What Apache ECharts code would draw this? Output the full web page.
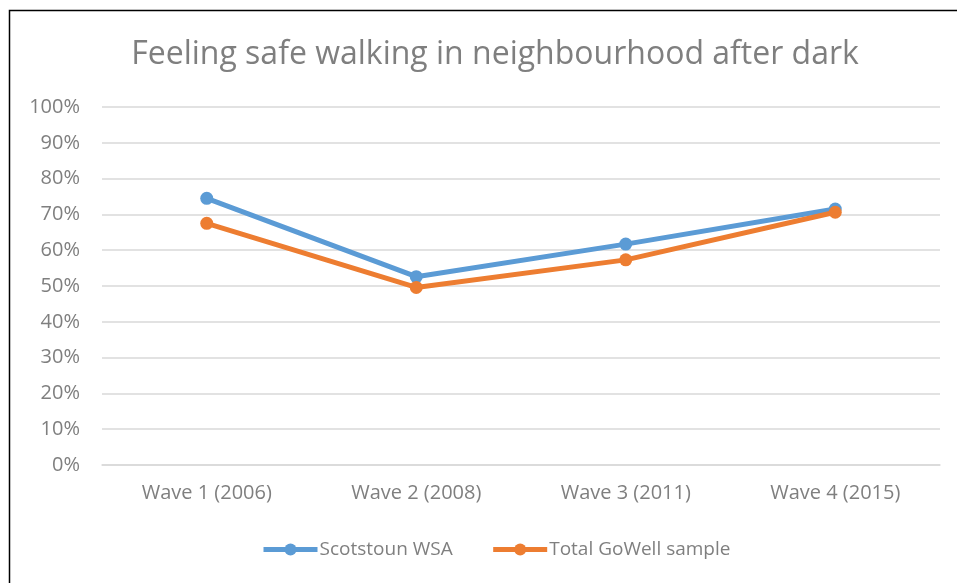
<!DOCTYPE html>
<html>
<head>
<meta charset="utf-8">
<script src="https://cdn.jsdelivr.net/npm/echarts@6/dist/echarts.min.js"></script>
<style>
  html, body { margin: 0; padding: 0; background: #fff; }
  #main { width: 957px; height: 583px; }
</style>
</head>
<body>
<div id="main"></div>
<script>
// data
var waves = ['Wave 1 (2006)', 'Wave 2 (2008)', 'Wave 3 (2011)', 'Wave 4 (2015)'];
var scotstoun = [74.5, 52.6, 61.7, 71.5];
var goWellTotal = [67.5, 49.6, 57.3, 70.6];
var seriesNames = ['Scotstoun WSA', 'Total GoWell sample'];

var myChart = echarts.init(document.getElementById('main'));
var font = '"Open Sans", sans-serif';

var option = {
    animation: false,
    backgroundColor: '#fff',
    title: {
        text: 'Feeling safe walking in neighbourhood after dark',
        left: 490,
        textAlign: 'center',
        top: 34,
        textStyle: { color: '#7f7f7f', fontSize: 32, fontWeight: 'normal', fontFamily: font }
    },
    graphic: [{
        type: 'rect',
        shape: { x: 9.5, y: 10.5, width: 960, height: 600 },
        style: { fill: 'none', stroke: '#000', lineWidth: 1.5 },
        silent: true
    }],
    legend: {
        top: 535,
        left: 256,
        itemWidth: 54,
        itemHeight: 15,
        itemGap: 38,
        data: seriesNames,
        lineStyle: { width: 5 },
        textStyle: { color: '#7f7f7f', fontSize: 19, fontFamily: font, padding: [0, 0, 0, -3] }
    },
    grid: { left: 102, right: 17, top: 107, bottom: 118 },
    xAxis: {
        type: 'category',
        data: waves,
        boundaryGap: true,
        axisLine: { lineStyle: { color: '#d9d9d9', width: 1.5 } },
        axisTick: { show: false },
        axisLabel: { color: '#7f7f7f', fontSize: 20, fontFamily: font, margin: 18 }
    },
    yAxis: {
        type: 'value',
        min: 0,
        max: 100,
        interval: 10,
        axisLine: { show: false },
        axisTick: { show: false },
        axisLabel: { color: '#7f7f7f', fontSize: 20, fontFamily: font, margin: 22, formatter: '{value}%' },
        splitLine: { lineStyle: { color: '#d9d9d9', width: 1.5 } }
    },
    series: [{
        name: seriesNames[0],
        type: 'line',
        data: scotstoun,
        symbol: 'circle',
        symbolSize: 13,
        lineStyle: { color: '#5b9bd5', width: 5 },
        itemStyle: { color: '#5b9bd5' }
    }, {
        name: seriesNames[1],
        type: 'line',
        data: goWellTotal,
        symbol: 'circle',
        symbolSize: 13,
        lineStyle: { color: '#ed7d31', width: 5 },
        itemStyle: { color: '#ed7d31' }
    }]
};
myChart.setOption(option);
</script>
</body>
</html>
